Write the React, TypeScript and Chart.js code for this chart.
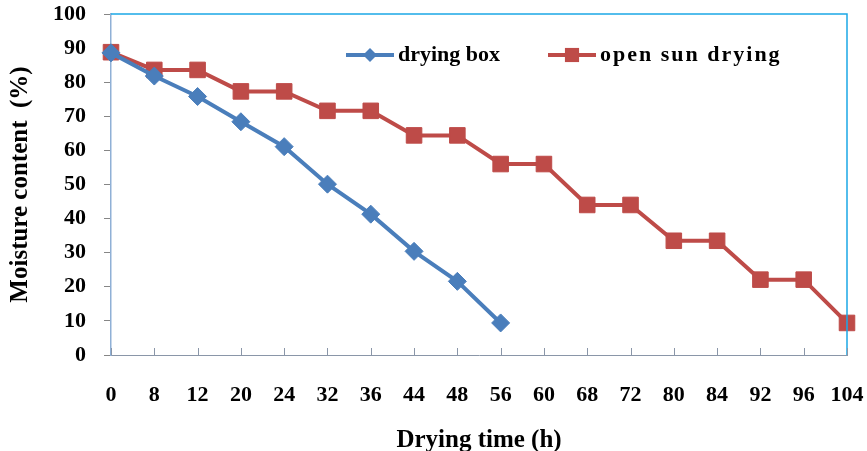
import React, { useEffect, useRef } from "react";
import { Chart, registerables } from "chart.js";

Chart.register(...registerables);

const categories = ["0", "8", "12", "20", "24", "32", "36", "44", "48", "56", "60", "68", "72", "80", "84", "92", "96", "104"];
const dryingBox = [88.6, 81.8, 75.8, 68.4, 61.1, 50.1, 41.3, 30.4, 21.6, 9.4];
const openSun = [88.8, 83.6, 83.6, 77.3, 77.3, 71.6, 71.6, 64.4, 64.4, 56.0, 56.0, 44.0, 44.0, 33.5, 33.5, 22.1, 22.1, 9.4];
const seriesNames = ["drying box", "open sun drying"];
const yMin = 0;
const yMax = 100;
const yStep = 10;

const BLUE = "#4A7EBB";
const RED = "#BE4B48";
const FONT = "'Liberation Serif', 'Times New Roman', serif";

const framePlugin = {
  id: "frame",
  afterDraw(chart: any) {
    const { ctx, chartArea } = chart;
    const { left, right, top, bottom } = chartArea;
    ctx.save();
    ctx.strokeStyle = "#1BA8E6";
    ctx.lineWidth = 1.5;
    ctx.beginPath();
    ctx.moveTo(left, top);
    ctx.lineTo(right, top);
    ctx.lineTo(right, bottom);
    ctx.stroke();
    const xs = chart.scales.x;
    ctx.strokeStyle = "#8A96A8";
    ctx.lineWidth = 1;
    for (let i = 0; i < xs.ticks.length; i++) {
      const px = Math.round(xs.getPixelForTick(i)) + 0.5;
      ctx.beginPath();
      ctx.moveTo(px, bottom);
      ctx.lineTo(px, bottom - 7);
      ctx.stroke();
    }
    ctx.restore();
  },
};

const legendPlugin = {
  id: "innerLegend",
  afterDatasetsDraw(chart: any) {
    const { ctx, chartArea } = chart;
    const y = chartArea.top + 41;
    const items = [
      { x: chartArea.left + 235, color: BLUE, style: "rectRot", r: 7, name: seriesNames[0], sp: "0px" },
      { x: chartArea.left + 437, color: RED, style: "rect", r: 10, name: seriesNames[1], sp: "2px" },
    ];
    ctx.save();
    for (const it of items) {
      ctx.strokeStyle = it.color;
      ctx.lineWidth = 4;
      ctx.beginPath();
      ctx.moveTo(it.x, y);
      ctx.lineTo(it.x + 48, y);
      ctx.stroke();
      ctx.fillStyle = it.color;
      ctx.beginPath();
      const cx = it.x + 24;
      if (it.style === "rectRot") {
        ctx.moveTo(cx - it.r, y);
        ctx.lineTo(cx, y - it.r);
        ctx.lineTo(cx + it.r, y);
        ctx.lineTo(cx, y + it.r);
        ctx.closePath();
      } else {
        const s = it.r * Math.SQRT1_2;
        ctx.rect(cx - s, y - s, 2 * s, 2 * s);
      }
      ctx.fill();
      ctx.fillStyle = "#000";
      ctx.font = `bold 22px ${FONT}`;
      (ctx as any).letterSpacing = it.sp;
      ctx.textBaseline = "middle";
      ctx.textAlign = "left";
      ctx.fillText(it.name, it.x + 52, y);
    }
    ctx.restore();
  },
};

export default function App() {
  const ref = useRef<HTMLCanvasElement | null>(null);
  useEffect(() => {
    if (!ref.current) return;
    const chart = new Chart(ref.current, {
      type: "line",
      data: {
        labels: categories,
        datasets: [
          {
            label: seriesNames[0],
            data: dryingBox,
            borderColor: BLUE,
            backgroundColor: BLUE,
            borderWidth: 4,
            pointStyle: "rectRot",
            pointRadius: 9,
            pointBorderWidth: 1,
            tension: 0,
          },
          {
            label: seriesNames[1],
            data: openSun,
            borderColor: RED,
            backgroundColor: RED,
            borderWidth: 4,
            pointStyle: "rect",
            pointRadius: 11,
            pointBorderWidth: 1,
            tension: 0,
          },
        ],
      },
      options: {
        animation: false,
        responsive: true,
        maintainAspectRatio: false,
        layout: { padding: { left: 0, top: 14, right: 20, bottom: 0 } },
        plugins: { legend: { display: false }, tooltip: { enabled: false } },
        scales: {
          x: {
            afterFit: (s: any) => {
              s.height = 96;
              s.paddingLeft = 0;
              s.paddingRight = 0;
            },
            grid: { display: true, drawOnChartArea: false, drawTicks: false },
            border: { display: true, color: "#8A96A8", width: 1 },
            ticks: {
              autoSkip: false,
              maxRotation: 0,
              padding: 27,
              color: "#000",
              font: { family: FONT, size: 22, weight: "bold" },
            },
            title: {
              display: true,
              text: "Drying time (h)",
              color: "#000",
              font: { family: FONT, size: 25, weight: "bold" },
              padding: { top: 0, bottom: -5 },
            },
          },
          y: {
            min: yMin,
            max: yMax,
            afterFit: (s: any) => {
              s.width = 111;
              s.paddingTop = 0;
              s.paddingBottom = 0;
            },
            grid: { drawOnChartArea: false, drawTicks: true, tickLength: 7, color: "#868686" },
            border: { display: true, color: "#8FB0D6", width: 1.5 },
            ticks: {
              stepSize: yStep,
              padding: 18,
              color: "#000",
              font: { family: FONT, size: 22, weight: "bold" },
            },
            title: {
              display: true,
              text: "Moisture content  (%)",
              color: "#000",
              font: { family: FONT, size: 25, weight: "bold" },
              padding: { top: 6, bottom: 0 },
            },
          },
        },
      },
      plugins: [framePlugin, legendPlugin],
    });
    return () => chart.destroy();
  }, []);
  return (
    <div style={{ position: "fixed", left: 0, top: 0, width: 867, height: 451 }}>
      <canvas ref={ref} />
    </div>
  );
}
